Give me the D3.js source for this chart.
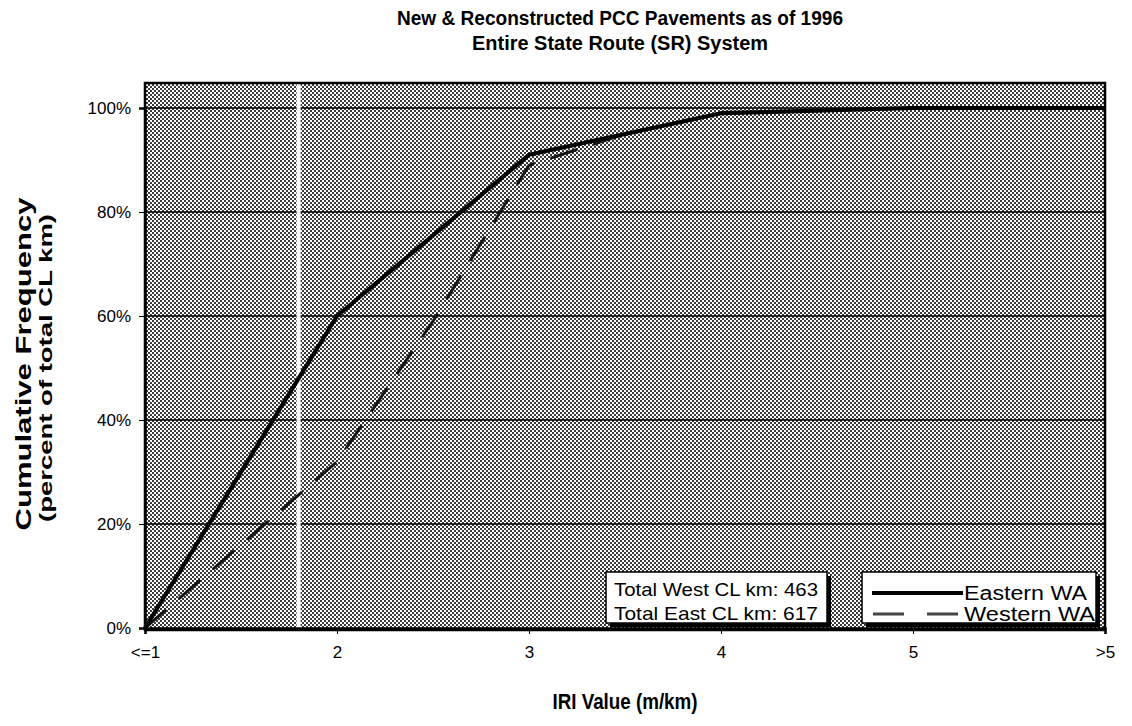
<!DOCTYPE html>
<html>
<head>
<meta charset="utf-8">
<script src="https://cdn.jsdelivr.net/npm/d3@7"></script>
<style>
  html, body { margin: 0; padding: 0; background: #fff; }
  svg { display: block; font-family: "Liberation Sans", Arial, sans-serif; }
</style>
</head>
<body>
<svg id="chart" width="1132" height="726"></svg>
<script>
// Cumulative frequency of centreline km by IRI bin (x: 1 = "<=1", 6 = ">5")
const iriWest = [1, 2, 2.5, 3, 3.5, 4, 5, 6];
const pctWest = [0, 0.32, 0.59, 0.89, 0.95, 0.99, 1.0, 1.0];
const iriEast = [1, 2, 3, 4, 5, 6];
const pctEast = [0, 0.60, 0.91, 0.99, 1.0, 1.0];
const xTickValues = [1, 2, 3, 4, 5, 6];
const xTickLabels = ["<=1", "2", "3", "4", "5", ">5"];
const yTickValues = [0, 0.2, 0.4, 0.6, 0.8, 1.0];
const seriesNames = ["Eastern WA", "Western WA"];
const totals = ["Total West CL km: 463", "Total East CL km: 617"];
const markerIri = 1.8;

const svg = d3.select("#chart");
const L = 145, R = 1105, T = 83, B = 630;
const x = d3.scaleLinear().domain([1, 6]).range([L, R]);
const y = d3.scaleLinear().domain([0, 1]).range([628, 108]);

// dithered grey plot background
const defs = svg.append("defs");
const pat = defs.append("pattern").attr("id", "dither")
  .attr("width", 4).attr("height", 4).attr("patternUnits", "userSpaceOnUse");
pat.append("rect").attr("width", 4).attr("height", 4).attr("fill", "#fff");
pat.append("rect").attr("x", 0).attr("y", 0).attr("width", 2).attr("height", 2).attr("fill", "#3a3a3a");
pat.append("rect").attr("x", 2).attr("y", 2).attr("width", 2).attr("height", 2).attr("fill", "#3a3a3a");

svg.append("rect").attr("x", L).attr("y", T).attr("width", R - L).attr("height", B - T)
  .attr("fill", "url(#dither)");

// horizontal gridlines
svg.append("g").selectAll("line").data(yTickValues.slice(1)).join("line")
  .attr("x1", L).attr("x2", R).attr("y1", d => y(d)).attr("y2", d => y(d))
  .attr("stroke", "#000").attr("stroke-width", 1.6);

// light vertical marker
svg.append("line").attr("x1", x(markerIri)).attr("x2", x(markerIri))
  .attr("y1", T).attr("y2", B).attr("stroke", "#fff").attr("stroke-width", 4);

// plot frame
svg.append("rect").attr("x", L).attr("y", T).attr("width", R - L).attr("height", B - T)
  .attr("fill", "none").attr("stroke", "#000").attr("stroke-width", 2.5);

// axes
const yAxis = d3.axisLeft(y).tickValues(yTickValues)
  .tickFormat(d => Math.round(d * 100) + "%").tickSize(6).tickPadding(8);
const gy = svg.append("g").attr("transform", `translate(${L},0)`).call(yAxis);
gy.select(".domain").attr("stroke-width", 2.5);
gy.selectAll("text").attr("font-size", 17).attr("fill", "#000")
  .attr("font-family", "Liberation Sans, Arial, sans-serif");

const xAxis = d3.axisBottom(x).tickValues(xTickValues)
  .tickFormat((d, i) => xTickLabels[i]).tickSize(6).tickPadding(12);
const gx = svg.append("g").attr("transform", `translate(0,628)`).call(xAxis);
gx.select(".domain").attr("stroke-width", 2.5);
gx.selectAll("text").attr("font-size", 17).attr("fill", "#000")
  .attr("font-family", "Liberation Sans, Arial, sans-serif");

// series lines
const line = d3.line().x(d => x(d[0])).y(d => y(d[1]));
const west = iriWest.map((v, i) => [v, pctWest[i]]);
const east = iriEast.map((v, i) => [v, pctEast[i]]);

svg.append("path").datum(west).attr("d", line).attr("fill", "none")
  .attr("stroke", "#151515").attr("stroke-width", 3).attr("stroke-dasharray", "28,17");
svg.append("path").datum(east).attr("d", line).attr("fill", "none")
  .attr("stroke", "#000").attr("stroke-width", 4.2).attr("stroke-linejoin", "round");

// boxes with drop shadow
function shadowBox(bx, by, bw, bh) {
  svg.append("rect").attr("x", bx + 4).attr("y", by + 4).attr("width", bw).attr("height", bh).attr("fill", "#000");
  svg.append("rect").attr("x", bx).attr("y", by).attr("width", bw).attr("height", bh)
    .attr("fill", "#fff").attr("stroke", "#000").attr("stroke-width", 1.5);
}
shadowBox(606, 572, 221, 51);
svg.append("g").selectAll("text").data(totals).join("text")
  .attr("x", 614).attr("y", (d, i) => 596 + i * 24)
  .attr("font-size", 19).attr("fill", "#000")
  .attr("textLength", 204).attr("lengthAdjust", "spacingAndGlyphs")
  .text(d => d);

// legend
shadowBox(862, 572, 234, 51);
svg.append("line").attr("x1", 872).attr("x2", 963).attr("y1", 593).attr("y2", 593)
  .attr("stroke", "#000").attr("stroke-width", 4);
svg.append("line").attr("x1", 873).attr("x2", 962).attr("y1", 614).attr("y2", 614)
  .attr("stroke", "#444").attr("stroke-width", 3).attr("stroke-dasharray", "31,23");
svg.append("g").selectAll("text").data(seriesNames).join("text")
  .attr("x", 964).attr("y", (d, i) => 600 + i * 21)
  .attr("font-size", 20).attr("fill", "#000")
  .attr("textLength", (d, i) => i === 0 ? 123 : 131).attr("lengthAdjust", "spacingAndGlyphs")
  .text(d => d);

// titles
svg.append("text").attr("x", 620).attr("y", 25).attr("text-anchor", "middle")
  .attr("font-size", 20).attr("font-weight", "bold").attr("textLength", 446)
  .attr("lengthAdjust", "spacingAndGlyphs")
  .text("New & Reconstructed  PCC Pavements as of 1996");
svg.append("text").attr("x", 620).attr("y", 50).attr("text-anchor", "middle")
  .attr("font-size", 20).attr("font-weight", "bold").attr("textLength", 296)
  .attr("lengthAdjust", "spacingAndGlyphs")
  .text("Entire State Route (SR) System");

svg.append("text").attr("x", 625).attr("y", 709).attr("text-anchor", "middle")
  .attr("font-size", 22).attr("font-weight", "bold").attr("textLength", 145)
  .attr("lengthAdjust", "spacingAndGlyphs").text("IRI Value (m/km)");

svg.append("text").attr("transform", "translate(31,364) rotate(-90)").attr("text-anchor", "middle")
  .attr("font-size", 22).attr("font-weight", "bold").attr("textLength", 333)
  .attr("lengthAdjust", "spacingAndGlyphs").text("Cumulative Frequency");
svg.append("text").attr("transform", "translate(52,368) rotate(-90)").attr("text-anchor", "middle")
  .attr("font-size", 18).attr("font-weight", "bold").attr("textLength", 308)
  .attr("lengthAdjust", "spacingAndGlyphs").text("(percent of total CL km)");
</script>
</body>
</html>
